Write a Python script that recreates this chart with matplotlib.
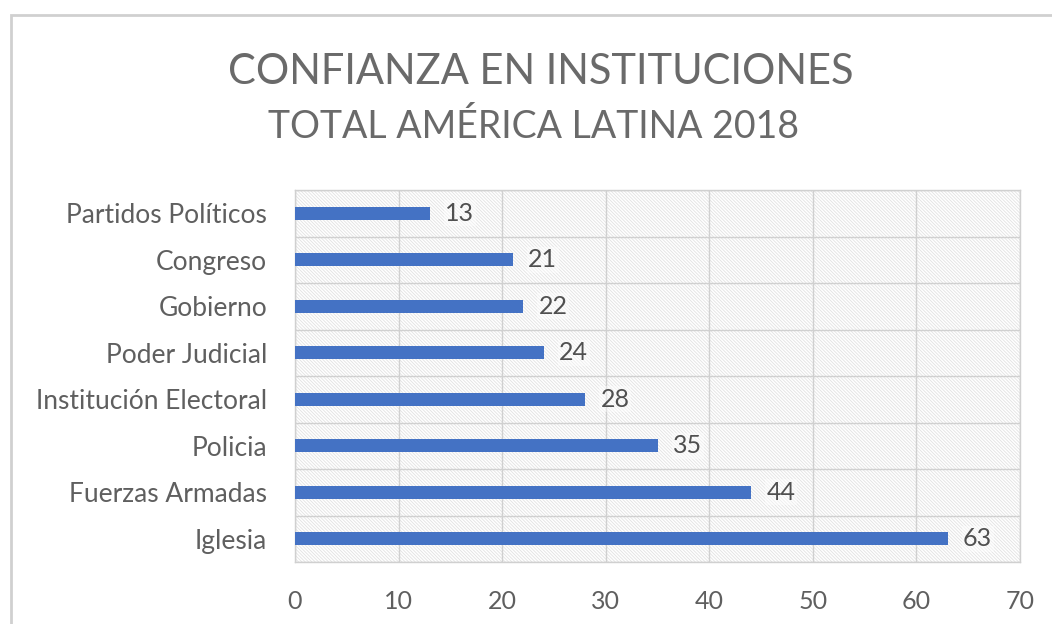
import matplotlib.pyplot as plt
from matplotlib.patches import Rectangle
import numpy as np

plt.rcParams['font.family'] = ['Lato', 'DejaVu Sans']
plt.rcParams['hatch.linewidth'] = 0.6

categories = ['Iglesia', 'Fuerzas Armadas', 'Policia', 'Institución Electoral',
              'Poder Judicial', 'Gobierno', 'Congreso', 'Partidos Políticos']
values = [63, 44, 35, 28, 24, 22, 21, 13]
xticks = [0, 10, 20, 30, 40, 50, 60, 70]

fig = plt.figure(figsize=(10.52, 6.24), dpi=100)
fig.patches.append(Rectangle((11 / 1052, -0.1), 1.1, 1 - 15 / 624 + 0.1,
                             transform=fig.transFigure, fill=False,
                             edgecolor='#d0d0d0', linewidth=2))

ax = fig.add_axes([295 / 1052, 1 - 562 / 624, 725 / 1052, 372 / 624])
ax.add_patch(Rectangle((0, 0), 1, 1, transform=ax.transAxes, facecolor='white',
                       edgecolor='#e2e2e2', linewidth=0, hatch='\\' * 10, zorder=0))

y = np.arange(len(categories))
ax.barh(y, values, height=0.27, color='#4472c4', zorder=3)
for yi, v in zip(y, values):
    ax.text(v + 1.5, yi, str(v), va='center', ha='left', fontsize=18, color='#505050',
            bbox=dict(facecolor='white', alpha=0.4, edgecolor='none', pad=1))

ax.set_xlim(0, 70)
ax.set_ylim(-0.5, len(categories) - 0.5)
ax.set_xticks(xticks)
ax.set_yticks(y)
ax.set_yticklabels(categories)
ax.set_yticks(np.arange(-0.5, len(categories), 1), minor=True)
ax.grid(axis='x', color='#d0d0d0', linewidth=1, zorder=1)
ax.grid(axis='y', which='minor', color='#d0d0d0', linewidth=1, zorder=1)
ax.tick_params(axis='both', which='both', length=0, labelsize=19, labelcolor='#5f5f5f')
ax.tick_params(axis='x', labelsize=18, pad=20)
ax.tick_params(axis='y', pad=20)
for s in ax.spines.values():
    s.set_color('#d0d0d0')
    s.set_linewidth(1)
ax.set_facecolor('none')

fig.text(541 / 1052, 1 - 72 / 624, 'CONFIANZA EN INSTITUCIONES', ha='center', va='center',
         fontsize=30, color='#6a6a6a')
fig.text(534 / 1052, 1 - 127 / 624, 'TOTAL AMÉRICA LATINA 2018', ha='center', va='center',
         fontsize=27, color='#6a6a6a')

fig.savefig('out.png', dpi=100)
